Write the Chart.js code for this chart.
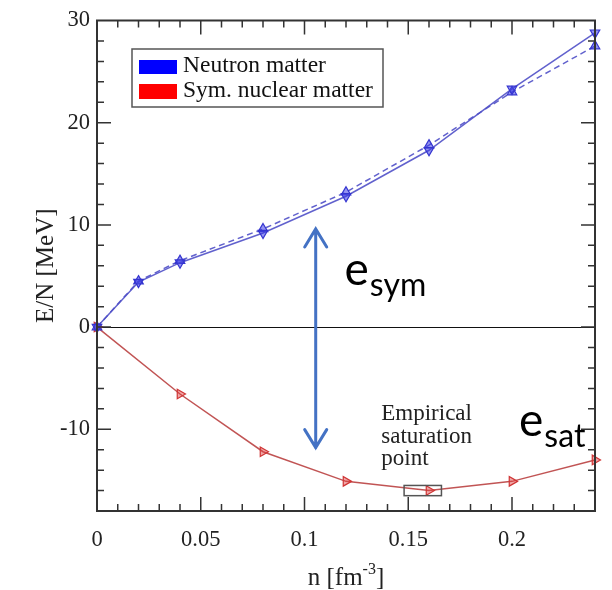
<!DOCTYPE html>
<html>
<head>
<meta charset="utf-8">
<script src="https://cdn.jsdelivr.net/npm/chart.js@4.4.1/dist/chart.umd.min.js"></script>
<style>
  html, body { margin: 0; padding: 0; background: #fff; }
  canvas { display: block; }
</style>
</head>
<body>
<canvas id="eos" width="612" height="590"></canvas>
<script>
// Density grid (fm^-3) and energy per particle (MeV)
const neutronDensities = [0, 0.02, 0.04, 0.08, 0.12, 0.16, 0.2, 0.24];
const neutronSolid = [0, 4.4, 6.3, 9.2, 12.8, 17.3, 23.3, 28.8];
const neutronDashed = [0, 4.5, 6.5, 9.6, 13.2, 17.8, 23.0, 27.5];
const symDensities = [0, 0.04, 0.08, 0.12, 0.16, 0.2, 0.24];
const symMatter = [0, -6.55, -12.2, -15.1, -16.0, -15.1, -13.0];

// Tick labels
const xTickLabels = [0, 0.05, 0.1, 0.15, 0.2];
const yTickLabels = [-10, 0, 10, 20, 30];

// Empirical saturation box and e_sym arrow (data units)
const satBox = { nMin: 0.148, nMax: 0.166, eMin: -16.5, eMax: -15.5 };
const esymArrow = { n: 0.1054, top: 9.6, bottom: -11.8 };

const toXY = (xs, ys) => xs.map((v, i) => ({ x: v, y: ys[i] }));

const serif = '"Liberation Serif", "Times New Roman", serif';
const sans = 'Lato, "Open Sans", sans-serif';

// Frame, inward ticks, zero line and annotations
const decorations = {
    id: 'decorations',
    beforeDatasetsDraw(chart) {
        const { ctx, chartArea: a, scales: { y } } = chart;
        const y0 = Math.round(y.getPixelForValue(0)) + 0.5;
        ctx.save();
        ctx.strokeStyle = '#111';
        ctx.lineWidth = 1;
        ctx.beginPath();
        ctx.moveTo(a.left, y0);
        ctx.lineTo(a.right, y0);
        ctx.stroke();
        ctx.restore();
    },
    afterDraw(chart) {
        const { ctx, chartArea: a, scales: { x, y } } = chart;
        ctx.save();
        ctx.strokeStyle = '#333';
        ctx.lineWidth = 2;
        ctx.strokeRect(a.left, a.top, a.right - a.left, a.bottom - a.top);

        // ticks on all four sides
        ctx.lineWidth = 1.5;
        ctx.beginPath();
        for (let i = 1; i < 24; i++) {
            const px = x.getPixelForValue(i / 100);
            const len = i % 5 === 0 ? 14 : 7;
            ctx.moveTo(px, a.bottom); ctx.lineTo(px, a.bottom - len);
            ctx.moveTo(px, a.top); ctx.lineTo(px, a.top + len);
        }
        for (let v = -16; v < 30; v += 2) {
            const py = y.getPixelForValue(v);
            const len = v % 10 === 0 ? 14 : 7;
            ctx.moveTo(a.left, py); ctx.lineTo(a.left + len, py);
            ctx.moveTo(a.right, py); ctx.lineTo(a.right - len, py);
        }
        ctx.stroke();

        // empirical saturation box
        const bx0 = x.getPixelForValue(satBox.nMin), bx1 = x.getPixelForValue(satBox.nMax);
        const by0 = y.getPixelForValue(satBox.eMax), by1 = y.getPixelForValue(satBox.eMin);
        ctx.strokeStyle = '#555';
        ctx.lineWidth = 1.5;
        ctx.strokeRect(bx0, by0, bx1 - bx0, by1 - by0);

        ctx.fillStyle = '#222';
        ctx.font = '23px ' + serif;
        ctx.textBaseline = 'alphabetic';
        const tx = x.getPixelForValue(0.137), ty = y.getPixelForValue(-9.13);
        ['Empirical', 'saturation', 'point'].forEach((t, i) => ctx.fillText(t, tx, ty + i * 22.5));

        // e_sym double arrow
        const ax = x.getPixelForValue(esymArrow.n);
        const aTop = y.getPixelForValue(esymArrow.top), aBot = y.getPixelForValue(esymArrow.bottom);
        ctx.strokeStyle = '#4472c4';
        ctx.lineWidth = 3;
        ctx.lineCap = 'round';
        ctx.beginPath();
        ctx.moveTo(ax, aTop); ctx.lineTo(ax, aBot);
        ctx.moveTo(ax - 11, aTop + 18); ctx.lineTo(ax, aTop); ctx.lineTo(ax + 11, aTop + 18);
        ctx.moveTo(ax - 11, aBot - 18); ctx.lineTo(ax, aBot); ctx.lineTo(ax + 11, aBot - 18);
        ctx.stroke();

        // e_sym / e_sat labels
        const subLabel = (main, sub, n, e) => {
            const px = x.getPixelForValue(n), py = y.getPixelForValue(e);
            ctx.fillStyle = '#000';
            ctx.font = '46px ' + sans;
            ctx.fillText(main, px, py);
            const w = ctx.measureText(main).width;
            ctx.font = '32px ' + sans;
            ctx.fillText(sub, px + w + 1, py + 11);
        };
        subLabel('e', 'sym', 0.1193, 4.1);
        subLabel('e', 'sat', 0.2034, -10.67);

        // x axis title with superscript
        ctx.fillStyle = '#222';
        ctx.font = '25px ' + serif;
        const p1 = 'n [fm', p2 = '-3', p3 = ']';
        const w1 = ctx.measureText(p1).width, w3 = ctx.measureText(p3).width;
        ctx.font = '16px ' + serif;
        const w2 = ctx.measureText(p2).width;
        const cx = (a.left + a.right) / 2 - (w1 + w2 + w3) / 2;
        const base = 585;
        ctx.font = '25px ' + serif;
        ctx.fillText(p1, cx, base);
        ctx.font = '16px ' + serif;
        ctx.fillText(p2, cx + w1, base - 11);
        ctx.font = '25px ' + serif;
        ctx.fillText(p3, cx + w1 + w2, base);

        // legend
        ctx.strokeStyle = '#555';
        ctx.lineWidth = 1.5;
        ctx.strokeRect(132, 49, 251, 58);
        ctx.fillStyle = '#0000ff';
        ctx.fillRect(139, 60, 38, 14);
        ctx.fillStyle = '#ff0000';
        ctx.fillRect(139, 84, 38, 15);
        ctx.fillStyle = '#111';
        ctx.font = '23.5px ' + serif;
        ctx.fillText('Neutron matter', 183, 72);
        ctx.fillText('Sym. nuclear matter', 183, 97);
        ctx.restore();
    }
};

const blueLine = 'rgba(80, 80, 200, 0.9)';
const bluePoint = 'rgba(60, 60, 230, 0.55)';
const redLine = 'rgba(190, 75, 75, 0.95)';
const redPoint = 'rgba(225, 60, 60, 0.45)';

new Chart(document.getElementById('eos'), {
    type: 'line',
    data: {
        datasets: [
            {
                label: 'Neutron matter',
                data: toXY(neutronDensities, neutronSolid),
                borderColor: blueLine,
                borderWidth: 1.5,
                pointStyle: 'triangle',
                rotation: 180,
                pointRadius: 5.5,
                pointBackgroundColor: bluePoint,
                pointBorderColor: '#3535d0',
                pointBorderWidth: 1.2,
                clip: false
            },
            {
                label: 'Neutron matter (dashed)',
                data: toXY(neutronDensities, neutronDashed),
                borderColor: blueLine,
                borderWidth: 1.5,
                borderDash: [6, 4],
                pointStyle: 'triangle',
                rotation: 0,
                pointRadius: 5.5,
                pointBackgroundColor: bluePoint,
                pointBorderColor: '#3535d0',
                pointBorderWidth: 1.2,
                clip: false
            },
            {
                label: 'Sym. nuclear matter',
                data: toXY(symDensities, symMatter),
                borderColor: redLine,
                borderWidth: 1.5,
                pointStyle: 'triangle',
                rotation: 90,
                pointRadius: 5.5,
                pointBackgroundColor: redPoint,
                pointBorderColor: '#d03535',
                pointBorderWidth: 1.2,
                clip: false
            }
        ]
    },
    options: {
        responsive: false,
        devicePixelRatio: 1,
        animation: false,
        layout: { padding: { top: 13.5, right: 17, left: 0, bottom: 0 } },
        plugins: { legend: { display: false }, tooltip: { enabled: false } },
        elements: { line: { tension: 0 } },
        scales: {
            x: {
                type: 'linear',
                min: 0,
                max: 0.24,
                afterBuildTicks: s => { s.ticks = xTickLabels.map(v => ({ value: v })); },
                afterFit: s => { s.height = 79; },
                grid: { display: false, drawTicks: false },
                border: { display: false },
                ticks: {
                    color: '#222',
                    padding: 16,
                    maxRotation: 0,
                    font: { family: serif, size: 22.5 },
                    callback: v => String(v)
                }
            },
            y: {
                type: 'linear',
                min: -18,
                max: 30,
                afterBuildTicks: s => { s.ticks = yTickLabels.map(v => ({ value: v })); },
                afterFit: s => { s.width = 97; },
                grid: { display: false, drawTicks: false },
                border: { display: false },
                title: {
                    display: true,
                    text: 'E/N [MeV]',
                    color: '#222',
                    padding: { top: 31 },
                    font: { family: serif, size: 25 }
                },
                ticks: {
                    color: '#222',
                    padding: 7,
                    font: { family: serif, size: 22.5 }
                }
            }
        }
    },
    plugins: [decorations]
});
</script>
</body>
</html>
